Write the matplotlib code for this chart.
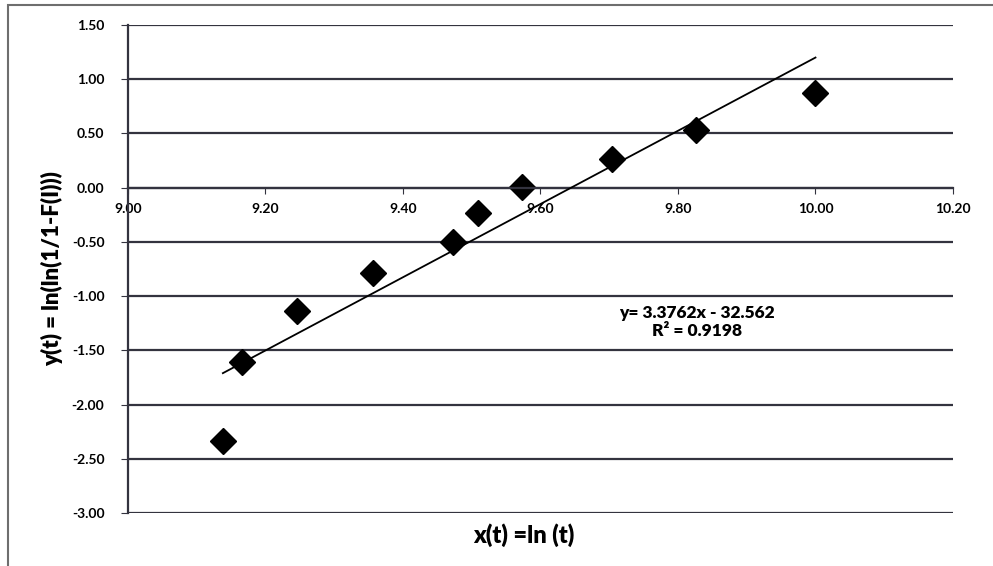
import matplotlib.pyplot as plt
from matplotlib.patches import Rectangle

# puntos
x_ln_t = [9.138, 9.166, 9.246, 9.356, 9.473, 9.509, 9.573, 9.704, 9.826, 10.000]
y_lnln = [-2.34, -1.61, -1.14, -0.79, -0.50, -0.23, 0.01, 0.26, 0.53, 0.87]

# linea de tendencia (Excel)
pendiente = 3.3762
intercepto = -32.562
r2 = 0.9198

xticks = [9.00, 9.20, 9.40, 9.60, 9.80, 10.00, 10.20]
yticks = [-3.00, -2.50, -2.00, -1.50, -1.00, -0.50, 0.00, 0.50, 1.00, 1.50]

plt.rcParams['font.family'] = ['Lato', 'DejaVu Sans']
plt.rcParams['font.weight'] = 'bold'

fig = plt.figure(figsize=(9.93, 5.66), dpi=100)
ax = fig.add_axes([0.1289, 0.0936, 0.8308, 0.8622])

# marco exterior del grafico
fig.patches.append(Rectangle((0.008, -0.1), 1.2, 1.091, transform=fig.transFigure,
                             fill=False, edgecolor='#6e6e6e', linewidth=1.5))

gris = '#33333f'
for yv in yticks:
    ax.axhline(yv, color=gris, linewidth=1.6, zorder=1)

xs = [min(x_ln_t), max(x_ln_t)]
ax.plot(xs, [pendiente * v + intercepto for v in xs], color='black', linewidth=1.3, zorder=3)
ax.plot(x_ln_t, y_lnln, linestyle='none', marker='D', markersize=13.5,
        color='black', zorder=2)

ax.set_xlim(9.0, 10.2)
ax.set_ylim(-3.0, 1.5)
ax.set_xticks(xticks)
ax.set_yticks(yticks)
ax.set_xticklabels(['%.2f' % v for v in xticks], fontsize=14, fontweight='heavy')
ax.set_yticklabels(['%.2f' % v for v in yticks], fontsize=14, fontweight='heavy')

ax.spines['left'].set_position(('data', 9.0))
ax.spines['bottom'].set_position(('data', 0.0))
ax.spines['top'].set_visible(False)
ax.spines['right'].set_visible(False)
ax.spines['left'].set_color(gris)
ax.spines['bottom'].set_color(gris)
ax.spines['left'].set_linewidth(1.6)
ax.spines['bottom'].set_linewidth(1.6)
ax.tick_params(axis='y', direction='out', length=5, color=gris, pad=12)
ax.tick_params(axis='x', direction='out', length=4, color=gris, pad=7)

ax.text(9.828, -1.24, 'y= %.4fx - %.3f\nR² = %.4f' % (pendiente, -intercepto, r2),
        ha='center', va='center', fontsize=12.5, fontweight='heavy', linespacing=1.15)

fig.text(0.052, 0.525, 'y(t) = ln(ln(1/1-F(I)))', rotation=90, ha='center', va='center',
         fontsize=16, fontweight='heavy')
fig.text(0.527, 0.055, 'x(t) =ln (t)', ha='center', va='center',
         fontsize=17, fontweight='heavy')

fig.savefig('out.png', dpi=100)
